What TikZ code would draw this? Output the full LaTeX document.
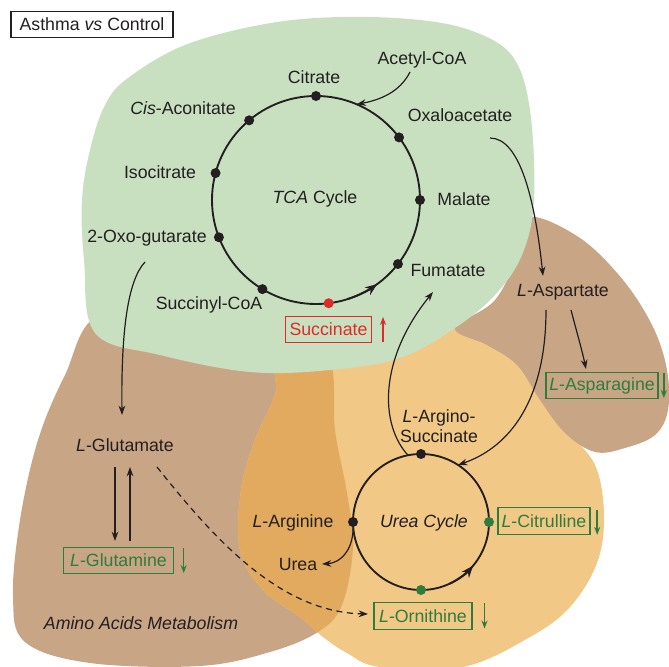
\documentclass[tikz,border=0pt]{standalone}
\usepackage{fontspec}
\setmainfont{Liberation Sans}
\usetikzlibrary{arrows.meta}
\definecolor{grnbg}{HTML}{C8E0C0}
\definecolor{brn}{HTML}{C8A585}
\definecolor{org}{HTML}{F1C886}
\definecolor{dorg}{HTML}{E2AA5E}
\definecolor{txt}{HTML}{231F20}
\definecolor{grn}{HTML}{2E7D3E}
\definecolor{rd}{HTML}{E02A2A}
\begin{document}
\begin{tikzpicture}[x=0.75pt,y=0.75pt,
  font=\fontsize{13.3}{15.5}\selectfont,
  lbl/.style={inner sep=0pt, text=txt},
  box/.style={draw, line width=0.8pt, inner sep=0pt, minimum height=20pt},
  gbox/.style={box, draw=grn, text=grn},
  rbox/.style={box, draw=rd, text=rd},
  dot/.style={circle, fill=txt, inner sep=0pt, minimum size=7.5pt},
  gdot/.style={dot, fill=grn},
  rdot/.style={dot, fill=rd},
  cyc/.style={line width=1.4pt, draw=txt},
  conn/.style={line width=0.9pt, draw=txt, -{Stealth[length=7pt,width=5pt]}},
  updown/.style={line width=1.1pt, -{Stealth[length=6pt,width=4.5pt]}}
]
\useasboundingbox (0,0) rectangle (669,-667);
% ---------- background regions ----------
\fill[brn] plot[smooth cycle, tension=0.6] coordinates {
 (100,-315) (200,-320) (320,-325) (333,-373) (335,-430) (347,-493) (353,-547)
 (342,-605) (318,-632) (270,-652) (200,-666) (90,-663) (25,-642) (13,-597)
 (20,-520) (38,-440) (65,-375)};
\fill[org] plot[smooth cycle, tension=0.6] coordinates {
 (290,-340) (450,-315) (505,-340) (537,-385) (565,-428) (595,-465) (604,-515)
 (597,-563) (570,-607) (530,-637) (463,-667) (380,-667) (347,-653) (323,-637)
 (300,-617) (263,-590) (240,-550) (241,-490) (255,-440) (275,-395)};
\begin{scope}
\clip plot[smooth cycle, tension=0.6] coordinates {
 (100,-315) (200,-320) (320,-325) (333,-373) (335,-430) (347,-493) (353,-547)
 (342,-605) (318,-632) (270,-652) (200,-666) (90,-663) (25,-642) (13,-597)
 (20,-520) (38,-440) (65,-375)};
\fill[dorg] plot[smooth cycle, tension=0.6] coordinates {
 (290,-340) (450,-315) (505,-340) (537,-385) (565,-428) (595,-465) (604,-515)
 (597,-563) (570,-607) (530,-637) (463,-667) (380,-667) (347,-653) (323,-637)
 (300,-617) (263,-590) (240,-550) (241,-490) (255,-440) (275,-395)};
\end{scope}
\fill[brn] plot[smooth cycle, tension=0.6] coordinates {
 (455,-328) (495,-300) (520,-250) (530,-217) (580,-238) (623,-280) (653,-327)
 (667,-370) (668,-410) (655,-435) (625,-448) (595,-452) (565,-433) (540,-400)
 (517,-365) (487,-345)};
\fill[grnbg] plot[smooth cycle, tension=0.6] coordinates {
 (128,-78) (185,-45) (265,-24) (340,-17) (420,-20) (475,-32) (513,-57)
 (530,-110) (534,-200) (522,-255) (495,-295) (455,-328) (400,-358) (330,-370)
 (250,-372) (160,-355) (95,-333) (84,-260) (82,-200) (90,-150) (105,-105)};

% ---------- title ----------
\node[box, draw=txt, text=txt, minimum width=121.5pt] (title) at (92,-24.5) {Asthma \textit{vs} Control};

% ---------- TCA cycle ----------
\node[lbl] (tca) at (315,-199) {\textit{TCA} Cycle};
\coordinate (tcac) at (316,-200);
\draw[cyc] (tcac) circle[radius=104];
\draw[cyc, -{Stealth[length=9pt,width=7pt]}] (tcac) ++(288:104) arc[start angle=288, end angle=306, radius=104];
\path (tcac) ++(90:104)  node[dot] (dcit) {};
\path (tcac) ++(130:104) node[dot] (dcis) {};
\path (tcac) ++(165:104) node[dot] (diso) {};
\path (tcac) ++(201:104) node[dot] (doxo) {};
\path (tcac) ++(239:104) node[dot] (dscoa) {};
\path (tcac) ++(277:104) node[rdot] (dsucc) {};
\path (tcac) ++(322:104) node[dot] (dfum) {};
\path (tcac) ++(0:104)   node[dot] (dmal) {};
\path (tcac) ++(37:104)  node[dot] (doaa) {};
\path (tcac) ++(67:104)  coordinate (acin);

\node[lbl] (cit) at (314,-77) {Citrate};
\node[lbl] (cis) at (183,-108) {\textit{Cis}-Aconitate};
\node[lbl] (iso) at (160,-172) {Isocitrate};
\node[lbl] (oxo) at (147,-238) {2-Oxo-gutarate};
\node[lbl] (scoa) at (209,-305) {Succinyl-CoA};
\node[rbox, minimum width=65pt] (succ) at (328.5,-329.5) {Succinate};
\draw[updown, rd] ([xshift=8pt,yshift=1pt]succ.south east) -- ([xshift=8pt,yshift=-1pt]succ.north east);
\node[lbl] (acet) at (422,-60) {Acetyl-CoA};
\node[lbl] (oaa) at (460,-115) {Oxaloacetate};
\node[lbl] (mal) at (464,-199) {Malate};
\node[lbl] (fum) at (448,-270) {Fumatate};
\node[lbl] (asp) at (563,-292) {\textit{L}-Aspartate};
\node[gbox, minimum width=84pt] (asn) at (602,-385.5) {\textit{L}-Asparagine};
\draw[updown, grn] ([xshift=4pt,yshift=-1pt]asn.north east) -- ([xshift=4pt,yshift=1pt]asn.south east);

% ---------- Urea cycle ----------
\coordinate (urc) at (421,-522);
\draw[cyc] (urc) circle[radius=68];
\draw[cyc, -{Stealth[length=9pt,width=7pt]}] (urc) ++(295:68) arc[start angle=295, end angle=320, radius=68];
\node[lbl] (ucyc) at (424,-523) {\textit{Urea Cycle}};
\path (urc) ++(90:68)  node[dot] (dasu) {};
\path (urc) ++(180:68) node[dot] (darg) {};
\path (urc) ++(0:68)   node[gdot] (dcitr) {};
\path (urc) ++(270:68) node[gdot] (dorn) {};
\path (urc) ++(57:68)  coordinate (ucin);
\path (urc) ++(101:68) coordinate (ucout);

\node[lbl, align=center] (asu) at (439,-426) {\textit{L}-Argino-\\Succinate};
\node[gbox, minimum width=69pt] (citr) at (544,-521) {\textit{L}-Citrulline};
\draw[updown, grn] ([xshift=5pt,yshift=-2pt]citr.north east) -- ([xshift=5pt,yshift=0pt]citr.south east);
\node[gbox, minimum width=73.5pt] (orn) at (423,-616) {\textit{L}-Ornithine};
\draw[updown, grn] ([xshift=9pt,yshift=-1pt]orn.north east) -- ([xshift=9pt,yshift=1pt]orn.south east);
\node[lbl] (arg) at (293,-523) {\textit{L}-Arginine};
\node[lbl] (urea) at (298,-564) {Urea};

% ---------- Amino acids ----------
\node[lbl] (glu) at (125,-445) {\textit{L}-Glutamate};
\node[gbox, minimum width=83pt] (gln) at (118.5,-560.5) {\textit{L}-Glutamine};
\draw[updown, grn] ([xshift=7pt,yshift=-1pt]gln.north east) -- ([xshift=7pt,yshift=1pt]gln.south east);
\node[lbl] (aam) at (141,-623) {\textit{Amino Acids Metabolism}};

% ---------- connector end points ----------
\coordinate (acS) at (410,-72);
\coordinate (oaaS) at (490,-138);
\coordinate (aspE) at (543,-276);
\coordinate (aspS1) at (546,-310);
\coordinate (aspS2) at (571,-310);
\coordinate (asnE) at (586,-369);
\coordinate (fumE) at (433,-292);
\coordinate (oxoS) at (145,-262);
\coordinate (gluE) at (122,-415);
\coordinate (gluS) at (157,-467);
\coordinate (ornE) at (368,-614);
\coordinate (ureaE) at (322,-564);
\coordinate (g1a) at (115,-467);
\coordinate (g1b) at (115,-541);
\coordinate (g2a) at (130,-541);
\coordinate (g2b) at (130,-467);

% ---------- connectors ----------
\draw[conn] (acS) .. controls (400,-92) and (380,-100) .. (acin);
\draw[conn] (oaaS) .. controls (520,-138) and (535,-200) .. (aspE);
\draw[conn] (aspS1) .. controls (546,-400) and (510,-447) .. (ucin);
\draw[conn] (aspS2) .. controls (577,-333) and (582,-350) .. (asnE);
\draw[conn] (ucout) .. controls (380,-425) and (378,-360) .. (fumE);
\draw[conn] (oxoS) .. controls (128,-280) and (121,-330) .. (gluE);
\draw[conn] (g1a) -- (g1b);
\draw[conn] (g2a) -- (g2b);
\draw[conn, dash pattern=on 4.5pt off 3.5pt] (gluS) .. controls (215,-540) and (280,-612) .. (ornE);
\draw[conn] (darg.center) .. controls (355,-550) and (340,-563) .. (ureaE);
\end{tikzpicture}
\end{document}
